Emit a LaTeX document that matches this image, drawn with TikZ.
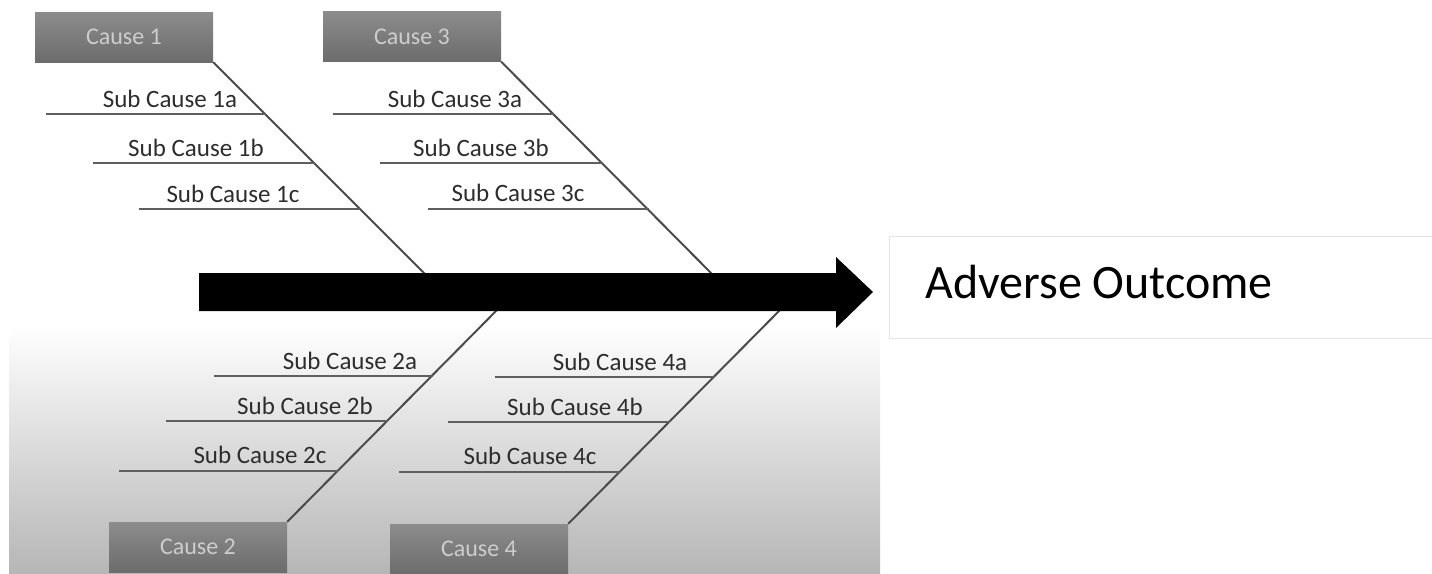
\documentclass[tikz,border=0pt]{standalone}
\usepackage{fontspec}
\setmainfont{Carlito}
\definecolor{causetop}{RGB}{140,140,140}
\definecolor{causebot}{RGB}{108,108,108}
\definecolor{causetext}{RGB}{205,205,205}
\definecolor{subtext}{RGB}{45,45,45}
\definecolor{linegray}{RGB}{95,95,95}
\definecolor{bonegray}{RGB}{75,75,75}
\definecolor{bggray}{RGB}{182,182,182}
\definecolor{boxborder}{RGB}{228,228,228}
\begin{document}
\begin{tikzpicture}[x=1pt,y=-1pt,
  cause/.style={minimum width=178pt, minimum height=50pt, inner sep=0pt,
    top color=causetop, bottom color=causebot, text=causetext,
    font=\fontsize{24}{28}\selectfont},
  sub/.style={anchor=base, text=subtext, inner sep=0pt,
    font=\fontsize{25}{30}\selectfont},
  subline/.style={draw=linegray, line width=2.6pt},
  bone/.style={draw=bonegray, line width=2pt},
  outbox/.style={draw=boxborder, line width=1pt, minimum width=560pt,
    minimum height=102pt, inner sep=0pt}]
\useasboundingbox (0,0) rectangle (1432,573);
\clip (0,0) rectangle (1432,573);
\fill[white] (0,0) rectangle (1432,573);
\shade[top color=white, bottom color=bggray] (9,325) rectangle (880,573);

% cause boxes
\node[cause] (c1) at (124,37) {Cause 1};
\node[cause] (c3) at (412,36.5) {Cause 3};
\node[cause] (c2) at (198,547) {Cause 2};
\node[cause] (c4) at (479,549) {Cause 4};

% joints on the spine
\coordinate (a1) at (426,275);
\coordinate (a3) at (713,275);
\coordinate (a2) at (498,309);
\coordinate (a4) at (781,309);

% bones
\draw[bone] (c1.south east) -- (a1);
\draw[bone] (c3.south east) -- (a3);
\draw[bone] (c2.north east) -- (a2);
\draw[bone] (c4.north east) -- (a4);

% sub cause lines
\coordinate (s1a) at (46,114);  \coordinate (e1a) at (266,114);
\coordinate (s1b) at (93,163);  \coordinate (e1b) at (315,163);
\coordinate (s1c) at (139,209); \coordinate (e1c) at (361,209);
\coordinate (s3a) at (333,114); \coordinate (e3a) at (554,114);
\coordinate (s3b) at (380,163); \coordinate (e3b) at (603,163);
\coordinate (s3c) at (428,209); \coordinate (e3c) at (649,209);
\coordinate (s2a) at (214,376); \coordinate (e2a) at (433,376);
\coordinate (s2b) at (166,421); \coordinate (e2b) at (388,421);
\coordinate (s2c) at (119,471); \coordinate (e2c) at (338,471);
\coordinate (s4a) at (495,377); \coordinate (e4a) at (715,377);
\coordinate (s4b) at (448,422); \coordinate (e4b) at (670,422);
\coordinate (s4c) at (399,472); \coordinate (e4c) at (620,472);
\foreach \k in {1a,1b,1c,3a,3b,3c,2a,2b,2c,4a,4b,4c}
  \draw[subline] (s\k) -- (e\k);

% main arrow
\fill[black] (199,273) -- (836,273) -- (836,257) -- (873,292) -- (836,328)
  -- (836,311) -- (199,311) -- cycle;

% sub cause labels
\node[sub] (l1a) at (170,107) {Sub Cause 1a};
\node[sub] (l1b) at (196,156) {Sub Cause 1b};
\node[sub] (l1c) at (233,202) {Sub Cause 1c};
\node[sub] (l3a) at (455,107) {Sub Cause 3a};
\node[sub] (l3b) at (481,156) {Sub Cause 3b};
\node[sub] (l3c) at (518,201) {Sub Cause 3c};
\node[sub] (l2a) at (350,369) {Sub Cause 2a};
\node[sub] (l2b) at (305,414) {Sub Cause 2b};
\node[sub] (l2c) at (260,463) {Sub Cause 2c};
\node[sub] (l4a) at (620,370) {Sub Cause 4a};
\node[sub] (l4b) at (575,415) {Sub Cause 4b};
\node[sub] (l4c) at (530,464) {Sub Cause 4c};

% outcome
\node[outbox, anchor=north west] (obox) at (889,236) {};
\node[anchor=base west, inner sep=0pt, font=\fontsize{48}{56}\selectfont, text=black]
  (out) at (925,298) {Adverse Outcome};
\end{tikzpicture}
\end{document}
